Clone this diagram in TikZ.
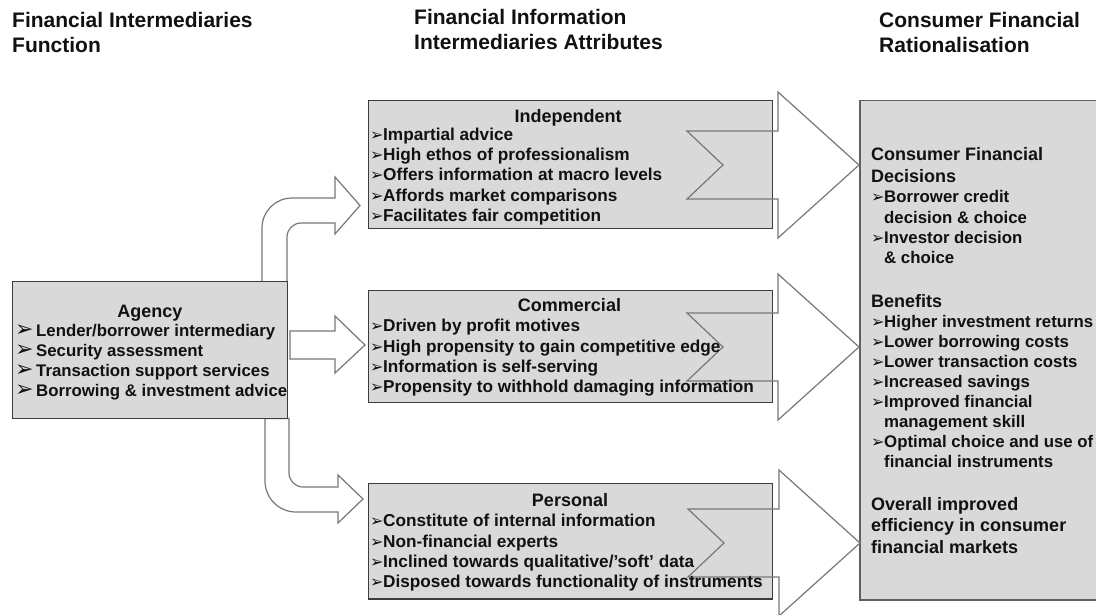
\documentclass[tikz,border=0pt]{standalone}
\usepackage{fontspec}
\setmainfont{Liberation Sans}
\newfontfamily\bulfam{DejaVu Sans}
\definecolor{boxfill}{HTML}{D9D9D9}
\definecolor{boxline}{HTML}{3C3C3C}
\definecolor{rboxline}{HTML}{606060}
\definecolor{arrline}{HTML}{777777}
\definecolor{txt}{HTML}{111111}
\newcommand\bfs[1][17]{\fontsize{#1}{20}\selectfont\bfseries}
\newcommand\tfs{\fontsize{18}{21}\selectfont\bfseries}
\newcommand\hfs{\fontsize{21}{25}\selectfont\bfseries}
\newcommand\mybul[2][13pt]{\makebox[#1][l]{\bulfam\fontsize{#2}{#2}\selectfont ➢}}
\begin{document}
\begin{tikzpicture}[x=1pt,y=-1pt,line join=miter,
  box/.style={draw=boxline,fill=boxfill,line width=1.3pt,inner sep=0pt,outer sep=0pt,anchor=north west},
  rbox/.style={draw=rboxline,fill=boxfill,line width=1.3pt,inner sep=0pt,outer sep=0pt,anchor=north west},
  bent/.style={draw=arrline,fill=white,line width=1.2pt},
  bigarr/.style={draw=arrline,line width=1.2pt},
  itm/.style={anchor=base west,inner sep=0pt,font={\bfs[17.2]},text=txt},
  itmr/.style={anchor=base west,inner sep=0pt,font={\bfs[16.8]},text=txt},
  ttl/.style={anchor=base,inner sep=0pt,font=\tfs,text=txt},
  rttl/.style={anchor=base west,inner sep=0pt,font=\tfs,text=txt},
  head/.style={anchor=base west,inner sep=0pt,font=\hfs,text=txt}]
\useasboundingbox (0,0) rectangle (1096,614);

% bent / straight arrows from Agency
\draw[bent] (262,281.7) -- (262,228) .. controls (262,211.4) and (275.4,198) .. (292,198)
  -- (335,198) -- (335,177) -- (360,205.5) -- (335,234) -- (335,223) -- (301,223)
  .. controls (293.3,223) and (287,229.3) .. (287,237) -- (287,281.7) -- cycle;
\draw[bent] (290,331) -- (335,331) -- (335,316) -- (365,345) -- (335,373) -- (335,359) -- (290,359) -- cycle;
\draw[bent] (265,418.5) -- (265,481) .. controls (265,498.1) and (278.9,512) .. (296,512)
  -- (338,512) -- (338,523) -- (363,499) -- (338,475) -- (338,487) -- (303,487)
  .. controls (295.3,487) and (289,480.7) .. (289,473) -- (289,418.5) -- cycle;

% boxes
\node[box,minimum width=274.8pt,minimum height=136.8pt] (agency) at (12.7,281.7) {};
\node[box,minimum width=404.5pt,minimum height=128pt] (indep) at (368.3,100.3) {};
\node[box,minimum width=404.5pt,minimum height=111.6pt] (comm) at (368.3,290.7) {};
\node[box,minimum width=404.5pt,minimum height=115.7pt] (pers) at (368.3,483.3) {};
\node[rbox,minimum width=237pt,minimum height=499.3pt] (rat) at (860,100.7) {};

% big notched arrows
\coordinate (a1) at (723,165);
\coordinate (a2) at (723,347);
\coordinate (a3) at (724,543);
\foreach \a in {a1,a2,a3}
  \draw[bigarr,shift={(\a)}] (-36,-34) -- (55,-34) -- (55,-73) -- (136,0) -- (55,73) -- (55,34) -- (-36,34) -- (0,0) -- cycle;

% headings
\node[head] (h1a) at (12,27.5) {Financial Intermediaries};
\node[head] (h1b) at (12,52.5) {Function};
\node[head] (h2a) at (414,24.5) {Financial Information};
\node[head] (h2b) at (414,49.5) {Intermediaries Attributes};
\node[head] (h3a) at (879,27.5) {Consumer Financial};
\node[head] (h3b) at (879,52.5) {Rationalisation};

% Agency
\node[ttl] (agt) at (150,317.5) {Agency};
\foreach \t [count=\i] in {Lender/borrower intermediary, Security assessment, Transaction support services, Borrowing \& investment advice}
  \node[itmr] (ag\i) at (15,316.5+20*\i) {\mybul[21pt]{22}\t};

% Independent
\node[ttl] (indt) at (568,122.3) {Independent};
\foreach \t [count=\i] in {Impartial advice, High ethos of professionalism, Offers information at macro levels, Affords market comparisons, Facilitates fair competition}
  \node[itm] (ind\i) at (370,120+20.3*\i) {\mybul{16}\t};

% Commercial
\node[ttl] (comt) at (569.5,311.5) {Commercial};
\foreach \t [count=\i] in {Driven by profit motives, High propensity to gain competitive edge, Information is self-serving, Propensity to withhold damaging information}
  \node[itm] (com\i) at (370,311.5+20.3*\i) {\mybul{16}\t};

% Personal
\node[ttl] (pert) at (570,506.7) {Personal};
\foreach \t [count=\i] in {Constitute of internal information, Non-financial experts, Inclined towards qualitative/’soft’ data, Disposed towards functionality of instruments}
  \node[itm] (per\i) at (370,506.4+20.3*\i) {\mybul{16}\t};

% Rationalisation box
\node[rttl] (r1) at (871,160.7) {Consumer Financial};
\node[rttl] (r2) at (871,182.3) {Decisions};
\node[itmr] (r3) at (871,202.3) {\mybul{16}Borrower credit};
\node[itmr] (r4) at (884,223.3) {decision \& choice};
\node[itmr] (r5) at (871,243.3) {\mybul{16}Investor decision};
\node[itmr] (r6) at (884,263.3) {\& choice};
\node[rttl] (r7) at (871,307.3) {Benefits};
\node[itmr] (r8) at (871,327.3) {\mybul{16}Higher investment returns};
\node[itmr] (r9) at (871,347.3) {\mybul{16}Lower borrowing costs};
\node[itmr] (r10) at (871,367.3) {\mybul{16}Lower transaction costs};
\node[itmr] (r11) at (871,387.5) {\mybul{16}Increased savings};
\node[itmr] (r12) at (871,407.5) {\mybul{16}Improved financial};
\node[itmr] (r13) at (884,427.7) {management skill};
\node[itmr] (r14) at (871,447.7) {\mybul{16}Optimal choice and use of};
\node[itmr] (r15) at (884,467.7) {financial instruments};
\node[rttl] (r16) at (871,510) {Overall improved};
\node[rttl] (r17) at (871,531.7) {efficiency in consumer};
\node[rttl] (r18) at (871,553.3) {financial markets};
\end{tikzpicture}
\end{document}
